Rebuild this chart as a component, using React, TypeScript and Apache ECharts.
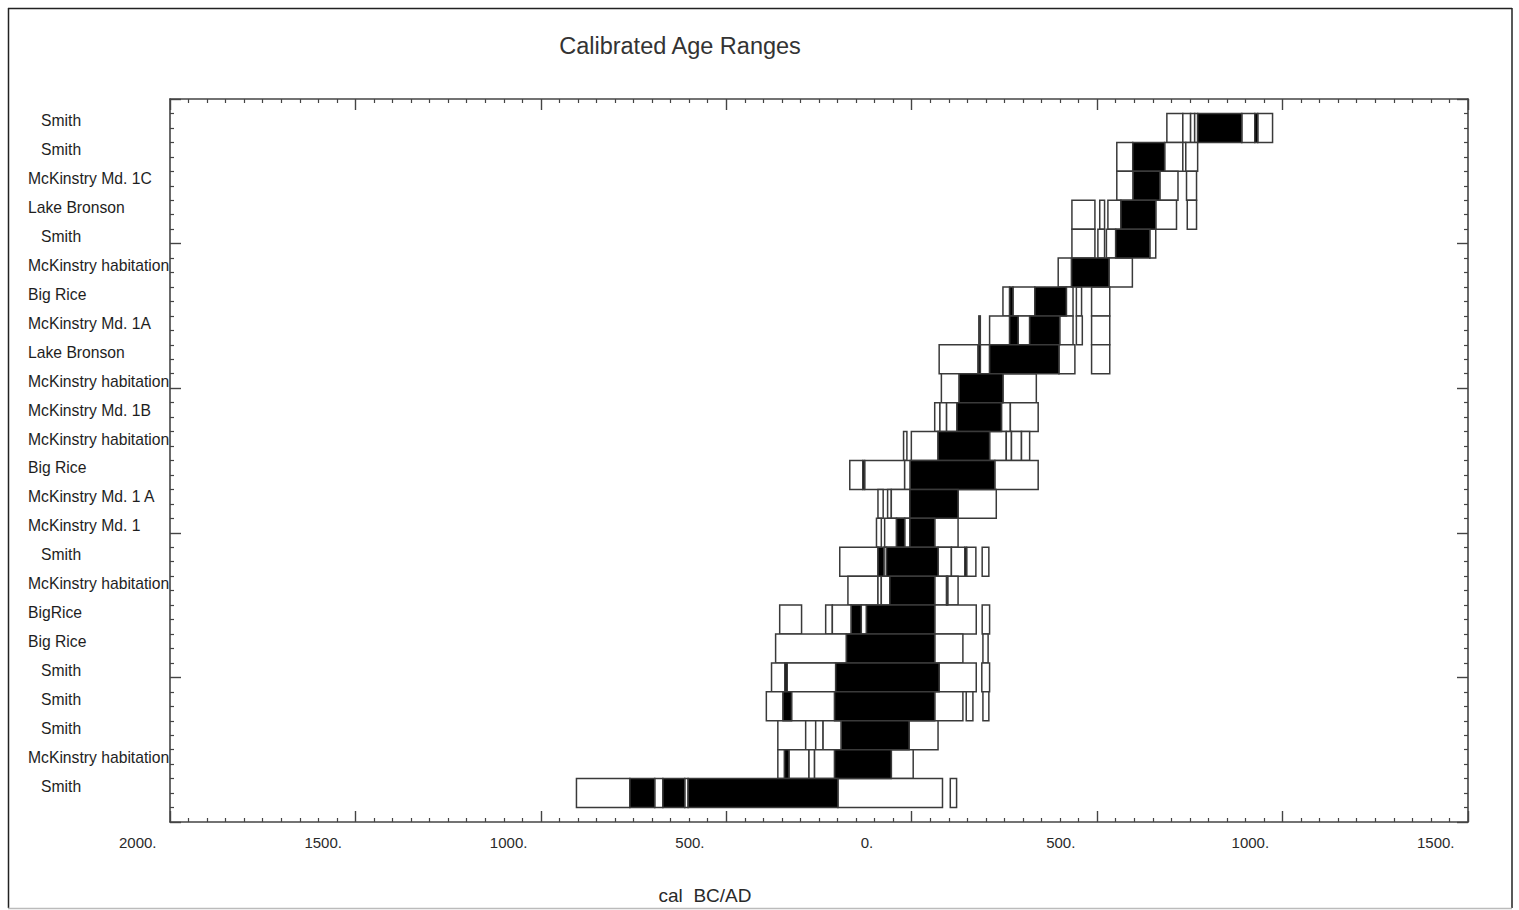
import React, { useEffect, useRef } from 'react';
import * as echarts from 'echarts';

// Sample names, top to bottom
const rowLabels = [
  'Smith', 'Smith', 'McKinstry Md. 1C', 'Lake Bronson', 'Smith',
  'McKinstry habitation', 'Big Rice', 'McKinstry Md. 1A', 'Lake Bronson',
  'McKinstry habitation', 'McKinstry Md. 1B', 'McKinstry habitation',
  'Big Rice', 'McKinstry Md. 1 A', 'McKinstry Md. 1', 'Smith',
  'McKinstry habitation', 'BigRice', 'Big Rice', 'Smith', 'Smith', 'Smith',
  'McKinstry habitation', 'Smith',
];

// Indented labels in the original
const indentedLabels = ['Smith'];

// 2-sigma ranges (white boxes), cal BC(-)/AD(+), per row top to bottom
const sigma2Ranges: number[][][] = [
  [[688, 731], [731, 752], [752, 763], [763, 771], [890, 925], [933, 973]],
  [[553, 596], [682, 731], [731, 739], [739, 771]],
  [[553, 597], [669, 718], [741, 768]],
  [[432, 494], [507, 520], [529, 564], [658, 714], [743, 768]],
  [[432, 494], [502, 520], [525, 550], [642, 658]],
  [[395, 431], [532, 595]],
  [[246, 264], [273, 332], [417, 435], [444, 458], [485, 534]],
  [[210, 264], [287, 318], [399, 435], [444, 460], [485, 534]],
  [[74, 179], [185, 210], [397, 440], [485, 534]],
  [[80, 128], [246, 336]],
  [[62, 76], [76, 94], [94, 122], [242, 266], [266, 341]],
  [[-22, -13], [-1, 71], [210, 255], [255, 269], [269, 296], [296, 318]],
  [[-167, -132], [-127, -19], [-19, -4], [224, 341]],
  [[-91, -77], [-65, -55], [-55, -5], [125, 228]],
  [[-95, -82], [-73, -41], [-19, -5], [62, 125]],
  [[-194, -91], [-75, -68], [71, 107], [107, 143], [148, 173], [190, 208]],
  [[-172, -91], [-91, -82], [-82, -59], [62, 94], [97, 125]],
  [[-356, -297], [-232, -214], [-214, -163], [-136, -122], [62, 174], [190, 210]],
  [[-367, -176], [62, 138], [192, 206]],
  [[-378, -342], [-336, -205], [74, 174], [189, 210]],
  [[-392, -347], [-324, -208], [62, 138], [147, 165], [192, 208]],
  [[-361, -286], [-259, -239], [-239, -190], [-7, 71]],
  [[-361, -343], [-331, -277], [-277, -262], [-262, -208], [-55, 4]],
  [[-904, -760], [-693, -671], [-612, -603], [-199, 83], [104, 121]],
];

// 1-sigma ranges (black boxes), per row top to bottom
const sigma1Ranges: number[][][] = [
  [[771, 890], [925, 933]],
  [[596, 682]],
  [[597, 669]],
  [[564, 658]],
  [[550, 642]],
  [[431, 532]],
  [[264, 273], [332, 417]],
  [[181, 185], [264, 287], [318, 399]],
  [[179, 185], [210, 397]],
  [[128, 246]],
  [[122, 242]],
  [[71, 210]],
  [[-132, -127], [-4, 224]],
  [[-5, 125]],
  [[-41, -19], [-5, 62]],
  [[-91, -75], [-68, 71], [143, 148]],
  [[-59, 62], [94, 97]],
  [[-163, -136], [-122, 62]],
  [[-176, 62]],
  [[-342, -336], [-205, 74]],
  [[-347, -324], [-208, 62]],
  [[-190, -7]],
  [[-343, -331], [-208, -55]],
  [[-760, -693], [-671, -612], [-603, -199]],
];

const xMin = -2000;
const xMax = 1500;
const xStep = 500;

const FONT = '"Liberation Sans", Arial, sans-serif';
const AXIS = '#444';

export default function App() {
  const ref = useRef<HTMLDivElement>(null);

  useEffect(() => {
    const chart = echarts.init(ref.current!, null, { renderer: 'svg' });
    const n = rowLabels.length;
    const data: number[][] = [];
    rowLabels.forEach((_, i) => {
      const y = n - i;
      sigma2Ranges[i].forEach(([a, b]) => data.push([a, b, y, 0]));
    });
    rowLabels.forEach((_, i) => {
      const y = n - i;
      sigma1Ranges[i].forEach(([a, b]) => data.push([a, b, y, 1]));
    });

    const tickAxis = (position: string, min: number, max: number, interval: number) => ({
      type: 'value',
      position,
      min,
      max,
      interval,
      axisLine: { show: true, onZero: false, lineStyle: { color: AXIS, width: 1.6 } },
      axisTick: { show: true, inside: true, length: 11, lineStyle: { color: AXIS, width: 1.4 } },
      minorTick: { show: true, splitNumber: 10, length: 4, lineStyle: { color: AXIS, width: 1.2 } },
      splitLine: { show: false },
      minorSplitLine: { show: false },
      axisLabel: { show: false },
    });

    const bottomAxis: any = tickAxis('bottom', xMin, xMax, xStep);
    bottomAxis.axisLabel = {
      show: true,
      formatter: (v: number) => Math.abs(v) + '.',
      align: 'left',
      padding: [0, 0, 0, -51],
      margin: 13,
      fontSize: 15,
      color: '#2a2a2a',
      fontFamily: FONT,
    };
    bottomAxis.name = 'cal  BC/AD';
    bottomAxis.nameLocation = 'middle';
    bottomAxis.nameGap = 64;
    bottomAxis.nameTextStyle = {
      fontSize: 19,
      color: '#2a2a2a',
      fontFamily: FONT,
      padding: [0, 228, 0, 0],
    };

    const labelAxis = {
      type: 'value',
      position: 'left',
      min: 0,
      max: n + 1,
      interval: 1,
      axisLine: { show: false, onZero: false },
      axisTick: { show: false },
      splitLine: { show: false },
      axisLabel: {
        show: true,
        align: 'left',
        verticalAlign: 'middle',
        margin: 142,
        formatter: (v: number) => {
          const idx = n - v;
          if (idx < 0 || idx >= n) return '';
          const t = rowLabels[idx];
          return indentedLabels.includes(t) ? `{s|${t}}` : `{n|${t}}`;
        },
        rich: {
          s: { fontSize: 15.7, color: '#1e1e1e', fontFamily: FONT, padding: [0, 0, 14, 13] },
          n: { fontSize: 15.7, color: '#1e1e1e', fontFamily: FONT, padding: [0, 0, 14, 0] },
        },
      },
    };

    chart.setOption({
      animation: false,
      backgroundColor: '#fff',
      grid: { left: 170, right: 51, top: 99, bottom: 88, containLabel: false },
      xAxis: [bottomAxis, tickAxis('top', xMin, xMax, xStep)],
      yAxis: [tickAxis('left', 0, n + 1, 5), tickAxis('right', 0, n + 1, 5), labelAxis],
      graphic: [
        {
          type: 'text',
          x: 680,
          y: 46,
          style: {
            text: 'Calibrated Age Ranges',
            align: 'center',
            verticalAlign: 'middle',
            fontSize: 23.5,
            fill: '#333',
            fontFamily: FONT,
          },
        },
        { type: 'line', shape: { x1: 8, y1: 8.5, x2: 1512, y2: 8.5 }, style: { stroke: '#222', lineWidth: 1.5 } },
        { type: 'line', shape: { x1: 8.5, y1: 8, x2: 8.5, y2: 908 }, style: { stroke: '#222', lineWidth: 1.5 } },
        { type: 'line', shape: { x1: 1512, y1: 8, x2: 1512, y2: 908 }, style: { stroke: '#222', lineWidth: 1.5 } },
        { type: 'line', shape: { x1: 8, y1: 908.5, x2: 1512, y2: 908.5 }, style: { stroke: '#bbb', lineWidth: 1.5 } },
      ],
      series: [
        {
          type: 'custom',
          xAxisIndex: 0,
          yAxisIndex: 0,
          encode: { x: [0, 1], y: 2 },
          data,
          renderItem: (params: any, api: any) => {
            const a = api.value(0);
            const b = api.value(1);
            const y = api.value(2);
            const k = api.value(3);
            const p0 = api.coord([a, y + 0.5]);
            const p1 = api.coord([b, y - 0.5]);
            return {
              type: 'rect',
              shape: { x: p0[0], y: p0[1], width: p1[0] - p0[0], height: p1[1] - p0[1] },
              style: { fill: k ? '#000' : '#fff', stroke: '#3a3a3a', lineWidth: 1.5 },
            };
          },
        },
      ],
    });

    return () => chart.dispose();
  }, []);

  return (
    <div
      ref={ref}
      style={{ position: 'fixed', left: 0, top: 0, width: 1519, height: 910, background: '#fff' }}
    />
  );
}
